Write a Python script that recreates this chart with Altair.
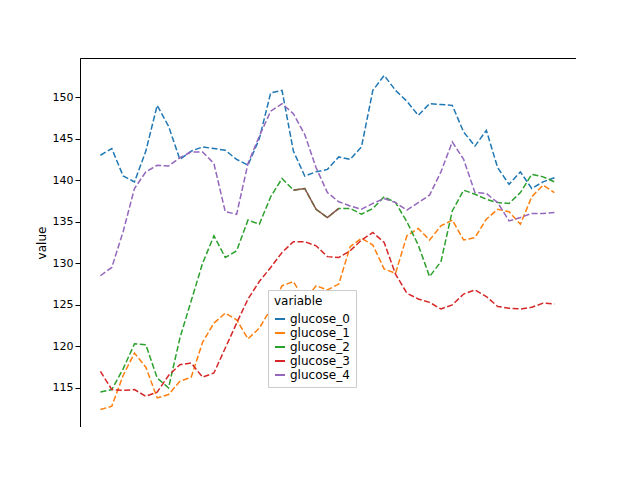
import altair as alt
import pandas as pd

minutes = list(range(1084, 1125))
g0 = [143,143.8,140.5,139.8,143.5,149,146.5,142.5,143.5,144,143.8,143.6,142.5,141.8,145,150.5,150.8,143.5,140.5,141,141.3,142.8,142.5,144,150.8,152.6,150.8,149.5,147.8,149.2,149.1,149,145.8,144.1,146,141.5,139.5,141,139,139.8,140.3]
g1 = [112.4,112.8,116.5,119.2,117.5,113.8,114.2,115.8,116.3,120.5,122.8,124,123.2,120.9,122.2,124.5,127.3,127.8,125.5,127.3,126.8,127.5,132,133,132.2,129.3,128.8,133.3,134.2,132.8,134.5,135.2,132.8,133.1,135.3,136.5,136.2,134.7,138,139.4,138.5]
g2 = [114.5,114.8,117.3,120.3,120.2,116.2,115,121,125.5,130,133.3,130.7,131.5,135.2,134.7,138,140.2,138.8,139,136.5,135.5,136.6,136.6,135.9,136.6,138,137.3,135,132.2,128.4,130.2,136.3,138.8,138.3,137.7,137.3,137.2,138.5,140.7,140.4,139.8]
g3 = [117,114.8,114.7,114.8,114,114.5,116.5,117.8,118,116.3,116.8,119.8,122.8,125.7,127.8,129.5,131.3,132.6,132.6,132.1,130.8,130.7,131.5,132.8,133.7,132.5,128.7,126.4,125.7,125.3,124.5,125,126.3,126.8,126,124.8,124.6,124.5,124.7,125.2,125.1]
g4 = [128.5,129.5,133.8,139,141,141.8,141.7,142.7,143.4,143.4,142,136.2,135.9,142,145.3,148.3,149.2,148,145.5,141.5,138.5,137.4,136.9,136.5,137.2,137.8,137.3,136.4,137.3,138.2,141,144.6,142.5,138.5,138.4,137.3,135.1,135.5,136,136,136.1]
names = ["glucose_0", "glucose_1", "glucose_2", "glucose_3", "glucose_4"]
colors = ["#1f77b4", "#ff7f0e", "#2ca02c", "#d62728", "#9467bd"]
seg_minutes = [1101, 1102, 1103, 1104, 1105]
seg_values = [138.8, 139, 136.5, 135.5, 136.6]

rows = []
for n, s in zip(names, [g0, g1, g2, g3, g4]):
    for m, v in zip(minutes, s):
        rows.append({"minute": m, "value": v, "variable": n})
df = pd.DataFrame(rows)
seg = pd.DataFrame({"minute": seg_minutes, "value": seg_values})

x = alt.X("minute:Q", scale=alt.Scale(domain=[1082.2, 1125.9], nice=False, zero=False),
          axis=alt.Axis(values=list(range(1085, 1126, 5)), format="d", title="minute"))
y = alt.Y("value:Q", scale=alt.Scale(domain=[110.3, 154.7], nice=False, zero=False),
          axis=alt.Axis(values=list(range(115, 151, 5)), format="d", title="value"))

lines = alt.Chart(df).mark_line(strokeDash=[6, 2.5], strokeWidth=1.5).encode(
    x=x, y=y,
    color=alt.Color("variable:N", scale=alt.Scale(domain=names, range=colors),
                    legend=alt.Legend(orient="none", legendX=188, legendY=232, title="variable",
                                      symbolType="stroke", symbolStrokeWidth=2, strokeColor="#ccc",
                                      padding=6, fillColor="white", titleFontWeight="normal",
                                      labelFontSize=12, titleFontSize=12)),
)
brown = alt.Chart(seg).mark_line(color="#8c564b", strokeWidth=1.5).encode(x=x, y=y)

chart = (lines + brown).properties(
    width=496, height=369, autosize=alt.AutoSizeParams(type="none"),
    padding={"left": 72, "top": 50, "right": 0, "bottom": 0}
).configure_axis(grid=False, labelFontSize=11, titleFontSize=12, titleFontWeight="normal",
                 domainColor="black", tickColor="black", labelColor="black", titleColor="black",
                 labelFont="DejaVu Sans", titleFont="DejaVu Sans"
).configure_legend(labelFont="DejaVu Sans", titleFont="DejaVu Sans"
).configure_view(stroke="black")

chart.save("out.html", embed_options={"renderer": "svg", "actions": False})
